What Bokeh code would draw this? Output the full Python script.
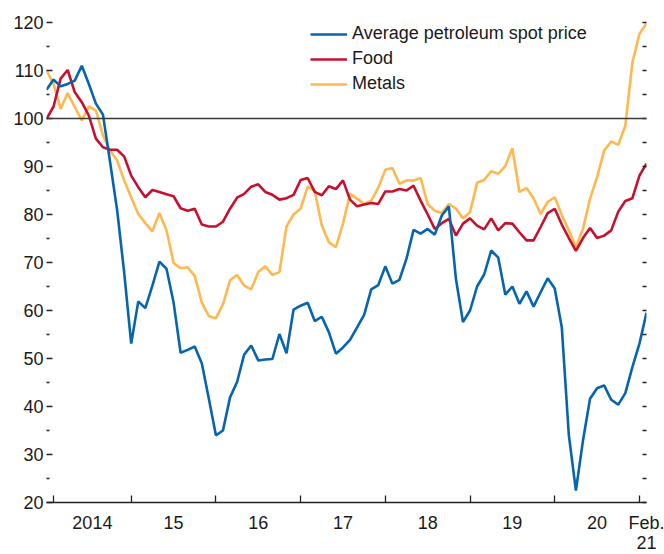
from bokeh.plotting import figure
from bokeh.models import FixedTicker, LinearAxis, Span, Legend, LegendItem, Range1d
from bokeh.embed import file_html
from bokeh.resources import INLINE

# Monthly index values, Jan 2014 .. Feb 2021 (86 months)
months = list(range(86))

petroleum = [106.0, 108.1, 106.7, 107.2, 107.9, 111.0, 107.2, 103.1, 100.8, 91.0,
             81.0, 68.0, 53.1, 61.9, 60.5, 65.2, 70.2, 68.7, 61.7, 51.2,
             51.8, 52.5, 49.0, 41.6, 34.0, 35.0, 41.9, 45.1, 50.8, 52.7,
             49.6, 49.8, 49.9, 55.1, 51.1, 60.2, 61.0, 61.6, 57.8, 58.7,
             55.5, 51.0, 52.3, 53.9, 56.5, 59.1, 64.4, 65.3, 69.2, 65.6,
             66.4, 70.8, 76.8, 76.0, 77.0, 75.8, 79.8, 81.7, 66.6, 57.6,
             60.0, 65.0, 67.5, 72.5, 71.0, 63.3, 65.0, 61.4, 64.0, 60.8,
             63.8, 66.7, 64.6, 56.5, 34.0, 22.5, 32.9, 41.6, 43.8, 44.4,
             41.4, 40.4, 42.8, 48.2, 53.1, 59.5]

food = [99.9, 102.5, 108.3, 110.1, 105.5, 103.4, 100.6, 95.8, 94.0, 93.5,
        93.5, 92.1, 88.1, 85.7, 83.6, 85.1, 84.7, 84.2, 83.8, 81.3,
        80.8, 81.2, 77.9, 77.5, 77.5, 78.5, 81.2, 83.5, 84.3, 85.8,
        86.3, 84.7, 84.1, 83.1, 83.4, 84.1, 87.2, 87.6, 84.7, 84.0,
        85.9, 85.3, 87.1, 83.1, 81.7, 82.1, 82.4, 82.2, 84.8, 84.8,
        85.3, 85.0, 86.0, 82.9, 80.0, 77.0, 78.2, 79.1, 75.6, 78.1,
        79.2, 77.7, 76.9, 79.2, 76.7, 78.2, 78.1, 76.3, 74.6, 74.6,
        77.4, 80.3, 81.2, 77.9, 75.1, 72.4, 75.1, 77.2, 75.1, 75.6,
        76.7, 80.6, 82.8, 83.4, 88.1, 90.6]

metals = [110.0, 107.2, 102.0, 105.3, 102.4, 99.6, 102.5, 101.7, 96.5, 93.3,
          91.3, 87.1, 83.6, 80.1, 78.2, 76.5, 80.3, 76.7, 69.9, 68.8,
          69.0, 67.2, 61.7, 58.8, 58.4, 61.3, 66.3, 67.4, 65.2, 64.4,
          68.0, 69.2, 67.4, 68.0, 77.5, 80.0, 81.2, 85.8, 84.9, 77.7,
          74.2, 73.2, 78.1, 84.3, 83.3, 82.2, 82.9, 85.6, 89.3, 89.7,
          86.4, 87.1, 87.1, 87.6, 82.2, 80.8, 80.3, 82.2, 81.2, 79.2,
          80.5, 86.6, 87.2, 89.0, 88.5, 90.1, 93.8, 84.7, 85.5, 83.4,
          80.1, 82.6, 83.6, 79.9, 76.7, 73.2, 77.0, 83.3, 87.8, 93.3,
          95.2, 94.5, 98.5, 111.7, 117.6, 119.8]

year_label_pos = [6.5, 18, 30, 42, 54, 66, 78, 85]
year_labels = ["2014", "15", "16", "17", "18", "19", "20", "Feb."]
last_year_label = "21"
year_boundaries = [1, 12, 24, 36, 48, 60, 72, 84]
y_ticks = list(range(20, 121, 10))
y_minor = list(range(25, 120, 10))

FONT = "Liberation Sans"
TXT = "#1a1a1a"
BLUE = "#0764ae"
RED = "#c8102e"
YELLOW = "#ffb84f"

p = figure(width=664, height=554, x_range=Range1d(0, 85), y_range=Range1d(20, 121.25),
           output_backend="svg", toolbar_location=None,
           x_axis_location=None, y_axis_location=None,
           min_border_left=46, min_border_right=18, min_border_top=16, min_border_bottom=52)
p.outline_line_color = None
p.xgrid.visible = False
p.ygrid.visible = False

xaxis = LinearAxis(ticker=FixedTicker(ticks=year_label_pos, minor_ticks=year_boundaries),
                   major_label_overrides={k: v for k, v in zip(year_label_pos, year_labels)},
                   major_tick_in=0, major_tick_out=0, major_tick_line_color=None,
                   minor_tick_in=7, minor_tick_out=0, minor_tick_line_color="#222222",
                   minor_tick_line_width=1.3,
                   axis_line_color="#222222", axis_line_width=1.5,
                   major_label_standoff=10, major_label_text_font=FONT,
                   major_label_text_font_size="18px", major_label_text_color=TXT)
p.add_layout(xaxis, "below")

# second line of the last x label ("Feb." / "21"), as a stacked axis below the first
xaxis2 = LinearAxis(ticker=FixedTicker(ticks=[year_label_pos[-1]]),
                    major_label_overrides={year_label_pos[-1]: last_year_label},
                    major_tick_in=0, major_tick_out=0, major_tick_line_color=None,
                    minor_tick_line_color=None, axis_line_color=None,
                    major_label_standoff=0, major_label_text_font=FONT,
                    major_label_text_font_size="18px", major_label_text_color=TXT)
p.add_layout(xaxis2, "below")

yaxis = LinearAxis(ticker=FixedTicker(ticks=y_ticks, minor_ticks=y_minor),
                   major_tick_in=6, major_tick_out=0, minor_tick_in=3, minor_tick_out=0,
                   major_tick_line_color="#222222", minor_tick_line_color="#222222",
                   major_tick_line_width=1.3, minor_tick_line_width=1.3,
                   axis_line_color=None, major_label_standoff=3,
                   major_label_text_font=FONT, major_label_text_font_size="18px",
                   major_label_text_color=TXT)
p.add_layout(yaxis, "left")

raxis = LinearAxis(ticker=FixedTicker(ticks=y_ticks, minor_ticks=y_minor),
                   major_tick_in=4, major_tick_out=0, minor_tick_in=4, minor_tick_out=0,
                   major_tick_line_color="#222222", minor_tick_line_color="#222222",
                   major_tick_line_width=1.3, minor_tick_line_width=1.3,
                   axis_line_color=None, major_label_standoff=0,
                   major_label_overrides={t: "" for t in y_ticks},
                   major_label_text_font_size="1px")
p.add_layout(raxis, "right")

p.add_layout(Span(location=100, dimension="width", line_color="#3a3a3a", line_width=1.5))

r_m = p.line(months, metals, line_color=YELLOW, line_width=2.6)
r_f = p.line(months, food, line_color=RED, line_width=2.6)
r_p = p.line(months, petroleum, line_color=BLUE, line_width=2.6)

legend = Legend(items=[LegendItem(label="Average petroleum spot price", renderers=[r_p]),
                       LegendItem(label="Food", renderers=[r_f]),
                       LegendItem(label="Metals", renderers=[r_m])],
                location=(264, 408), glyph_width=37, glyph_height=20, label_height=20,
                label_standoff=5, spacing=4, padding=0, margin=0,
                border_line_color=None, background_fill_alpha=0,
                label_text_font=FONT, label_text_font_size="18px", label_text_color=TXT)
p.add_layout(legend)

open("out.html", "w").write(file_html(p, INLINE))
